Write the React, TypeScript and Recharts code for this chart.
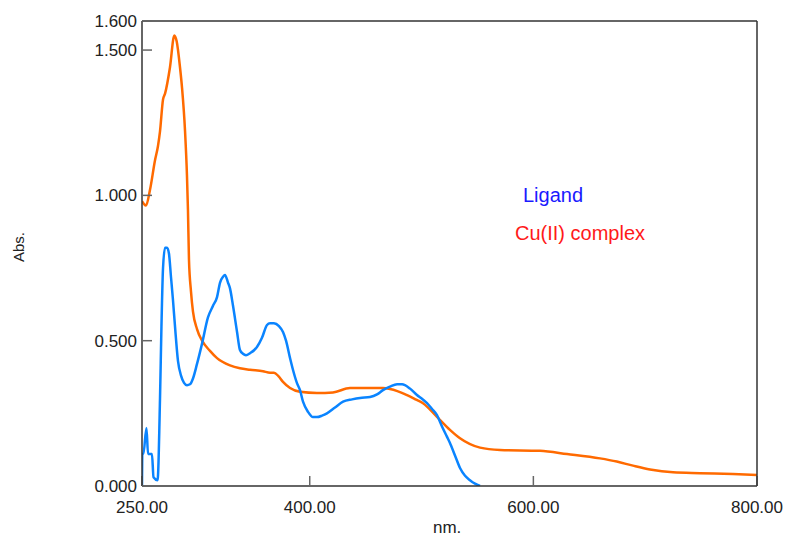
import { LineChart, Line, XAxis, YAxis } from 'recharts';

// UV-Vis spectra, wavelength (nm) vs absorbance
const ligandNm = [
  250.0, 250.3, 251.2, 254.0, 255.4, 258.9, 260.3, 263.9, 266.1, 267.4, 268.8, 270.6, 272.4, 274.1,
  275.9, 277.7, 279.5, 282.2, 284.9, 287.6, 290.2, 292.9, 295.6, 299.2, 303.7, 309.0, 313.5, 317.1,
  319.8, 322.5, 324.2, 326.9, 328.7, 331.4, 335.0, 337.6, 340.3, 343.0, 346.6, 352.8, 357.3, 361.8,
  364.5, 368.0, 372.5, 376.1, 378.8, 382.4, 385.0, 388.6, 391.3, 394.0, 398.5, 402.9, 406.5, 411.0,
  415.4, 422.6, 429.8, 437.9, 445.0, 453.9, 460.2, 465.5, 471.8, 478.1, 482.6, 485.2, 489.7, 495.9,
  500.4, 504.9, 509.4, 513.8, 518.3, 522.8, 525.4, 529.9, 534.4, 538.9, 543.3, 547.8, 552.3,
];
const ligandAbs = [
  0.0, 0.11, 0.11, 0.2, 0.11, 0.11, 0.03, 0.02, 0.3, 0.55, 0.75, 0.82, 0.82, 0.8,
  0.72, 0.64, 0.55, 0.43, 0.38, 0.355, 0.347, 0.35, 0.37, 0.42, 0.49, 0.58, 0.62, 0.65,
  0.7, 0.72, 0.726, 0.7, 0.68, 0.62, 0.53, 0.468, 0.455, 0.45, 0.457, 0.478, 0.51, 0.554,
  0.56, 0.56, 0.55, 0.53, 0.5, 0.44, 0.4, 0.354, 0.33, 0.29, 0.255, 0.237, 0.237, 0.242,
  0.25, 0.27, 0.29, 0.298, 0.303, 0.306, 0.315, 0.33, 0.342, 0.35, 0.35, 0.347, 0.335, 0.313,
  0.3, 0.285, 0.265, 0.244, 0.205, 0.169, 0.148, 0.105, 0.062, 0.035, 0.02, 0.008, 0.0,
];

const complexNm = [
  250.0, 251.8, 253.6, 257.2, 261.6, 264.3, 266.1, 268.8, 270.6, 275.0, 278.9, 281.0, 284.0, 285.8,
  288.5, 290.2, 291.1, 292.0, 293.8, 295.6, 299.2, 303.7, 310.8, 317.1, 328.7, 337.6, 346.6, 358.2,
  364.5, 368.0, 372.0, 376.1, 382.4, 391.3, 406.5, 420.8, 436.0, 465.5, 471.8, 487.0, 495.7, 501.3,
  513.8, 525.4, 534.4, 552.3, 570.2, 605.9, 630.2, 659.6, 674.6, 689.1, 704.3, 724.9, 749.0, 778.5,
  800.0,
];
const complexAbs = [
  0.98, 0.97, 0.965, 1.02, 1.12, 1.17, 1.22, 1.33, 1.35, 1.44, 1.55, 1.53, 1.44, 1.37,
  1.22, 1.07, 0.95, 0.78, 0.67, 0.6, 0.54, 0.5, 0.465, 0.44, 0.415, 0.405, 0.4, 0.395,
  0.39, 0.39, 0.378, 0.358, 0.337, 0.324, 0.32, 0.322, 0.337, 0.337, 0.334, 0.313, 0.296, 0.285,
  0.238, 0.193, 0.164, 0.132, 0.124, 0.121, 0.11, 0.095, 0.084, 0.07, 0.057, 0.047, 0.044, 0.041,
  0.038,
];

const xTicks = [250, 400, 600, 800];
const yTicks = [0, 0.5, 1.0, 1.5, 1.6];

const ligandData = ligandNm.map((nm, i) => ({ nm, abs: ligandAbs[i] }));
const complexData = complexNm.map((nm, i) => ({ nm, abs: complexAbs[i] }));

const FONT = "'Liberation Sans', Arial, sans-serif";
const AXIS = '#333';
const TICK = '#666';

export default function App() {
  return (
    <div style={{ position: 'relative', width: 786, height: 537, fontFamily: FONT }}>
      <style>{`body{margin:0}`}</style>
      <LineChart width={786} height={537} margin={{ top: 20, right: 28, bottom: 0, left: 0 }}>
        <XAxis
          type="number"
          dataKey="nm"
          domain={[250, 800]}
          ticks={xTicks}
          interval={0}
          height={51}
          tickSize={-10}
          tickMargin={25}
          tickFormatter={(v) => v.toFixed(2)}
          tick={{ fontSize: 17, fill: '#222', fontFamily: FONT }}
          stroke={AXIS}
          strokeWidth={1.5}
          tickLine={{ stroke: TICK, strokeWidth: 1.5 }}
          allowDataOverflow
        />
        <XAxis
          xAxisId="top"
          orientation="top"
          type="number"
          dataKey="nm"
          domain={[250, 800]}
          ticks={[400, 600]}
          interval={0}
          height={1}
          tickSize={-10}
          tick={false}
          stroke={AXIS}
          strokeWidth={1.5}
          tickLine={{ stroke: TICK, strokeWidth: 1.5 }}
        />
        <YAxis
          type="number"
          domain={[0, 1.6]}
          ticks={yTicks}
          interval={0}
          width={142}
          tickSize={-10}
          tickMargin={15}
          tickFormatter={(v) => v.toFixed(3)}
          tick={{ fontSize: 17, fill: '#222', fontFamily: FONT }}
          stroke={AXIS}
          strokeWidth={1.5}
          tickLine={{ stroke: TICK, strokeWidth: 1.5 }}
          allowDataOverflow
        />
        <YAxis
          yAxisId="right"
          orientation="right"
          type="number"
          domain={[0, 1.6]}
          ticks={[0.5, 1.0, 1.5]}
          interval={0}
          width={1}
          tickSize={-10}
          tick={false}
          stroke={AXIS}
          strokeWidth={1.5}
          tickLine={{ stroke: TICK, strokeWidth: 1.5 }}
        />
        <Line
          data={complexData}
          dataKey="abs"
          type="monotone"
          stroke="#ff6a00"
          strokeWidth={2.5}
          dot={false}
          isAnimationActive={false}
        />
        <Line
          data={ligandData}
          dataKey="abs"
          type="monotone"
          stroke="#0a84ff"
          strokeWidth={2.5}
          dot={false}
          isAnimationActive={false}
        />
      </LineChart>
      <div style={{ position: 'absolute', left: 523, top: 184, fontSize: 20, color: '#1a1aff', whiteSpace: 'nowrap' }}>
        Ligand
      </div>
      <div style={{ position: 'absolute', left: 515, top: 222, fontSize: 20, color: '#ff1a1a', whiteSpace: 'nowrap' }}>
        Cu(II) complex
      </div>
      <div style={{ position: 'absolute', left: 433, top: 518, fontSize: 17, color: '#222' }}>nm.</div>
      <div
        style={{
          position: 'absolute',
          left: 18,
          top: 247,
          fontSize: 15,
          color: '#222',
          transform: 'translate(-50%, -50%) rotate(-90deg)',
          whiteSpace: 'nowrap',
        }}
      >
        Abs.
      </div>
    </div>
  );
}
